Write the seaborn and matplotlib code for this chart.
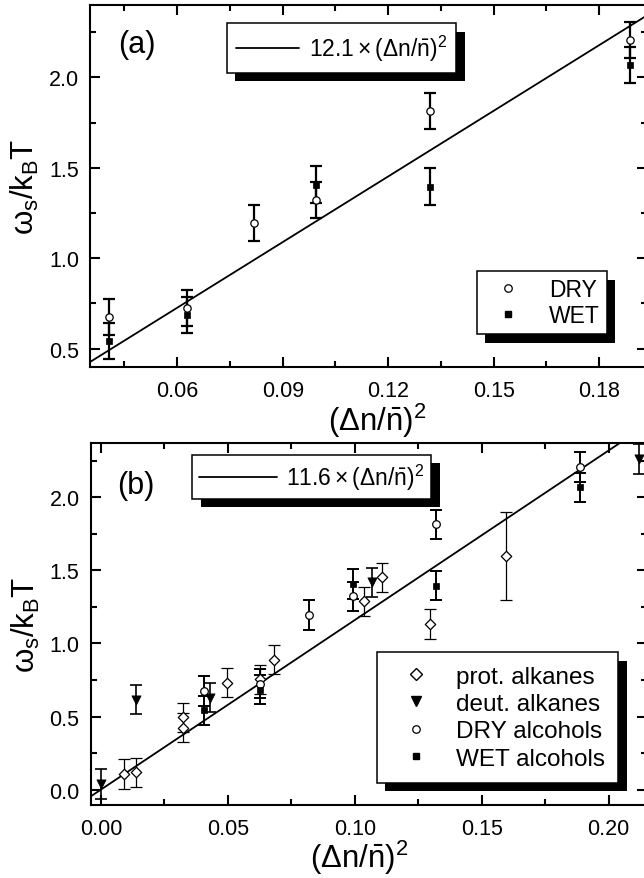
import numpy as np
import matplotlib
matplotlib.use("Agg")
import matplotlib.pyplot as plt
import seaborn as sns
from matplotlib.lines import Line2D
from matplotlib.patches import Rectangle
from matplotlib.ticker import MultipleLocator, FormatStrFormatter
from matplotlib.transforms import IdentityTransform

# ---------------- data ----------------
# alcohols (shown in both panels)
dry_x = [0.0405, 0.0627, 0.0819, 0.0995, 0.1320, 0.1887]
dry_y = [0.675, 0.725, 1.195, 1.322, 1.815, 2.207]
dry_err = [0.10, 0.10, 0.10, 0.10, 0.10, 0.10]

wet_x = [0.0405, 0.0627, 0.0995, 0.1320, 0.1887]
wet_y = [0.542, 0.684, 1.407, 1.396, 2.067]
wet_err = [0.10, 0.10, 0.10, 0.10, 0.10]

# alkanes (panel b)
prot_x = [0.0091, 0.0139, 0.0325, 0.0325, 0.0496, 0.0625, 0.0680, 0.1037, 0.1106, 0.1297, 0.1596]
prot_y = [0.107, 0.119, 0.495, 0.424, 0.732, 0.755, 0.889, 1.289, 1.453, 1.133, 1.600]
prot_err = [0.10, 0.10, 0.10, 0.10, 0.10, 0.10, 0.10, 0.10, 0.10, 0.10, 0.30]

deut_x = [0.0000, 0.0139, 0.0430, 0.1067, 0.2120]
deut_y = [0.039, 0.616, 0.630, 1.418, 2.262]
deut_err = [0.10, 0.10, 0.10, 0.10, 0.10]

# fitted slopes
slope_a = 12.1
slope_b = 11.6

# ---------------- style ----------------
sns.set_theme(style="ticks")
plt.rcParams.update({
    "font.family": ["Liberation Sans", "DejaVu Sans"],
    "mathtext.fontset": "custom",
    "mathtext.rm": "Liberation Sans",
    "mathtext.it": "Liberation Sans",
    "mathtext.sf": "Liberation Sans",
    "mathtext.bf": "Liberation Sans:bold",
    "axes.linewidth": 1.5,
    "axes.edgecolor": "black",
    "text.color": "black",
    "axes.labelcolor": "black",
    "xtick.color": "black",
    "ytick.color": "black",
})

W, H = 644, 879
fig = plt.figure(figsize=(W / 100, H / 100), dpi=100)
fig.patch.set_facecolor("white")


def frac_box(left, top, right, bottom):
    return [left / W, 1 - bottom / H, (right - left) / W, (bottom - top) / H]


ax_a = fig.add_axes(frac_box(90, 6, 647, 367.7))
ax_b = fig.add_axes(frac_box(90.7, 444, 647, 806))

TICK_FS = 15.5
LABEL_FS = 22.5
PANEL_FS = 22
FIT_FS = 16.5


def style_axes(ax, xmaj, xmin, xfmt):
    ax.set_facecolor("white")
    ax.xaxis.set_major_locator(MultipleLocator(xmaj))
    ax.xaxis.set_minor_locator(MultipleLocator(xmin))
    ax.yaxis.set_major_locator(MultipleLocator(0.5))
    ax.yaxis.set_minor_locator(MultipleLocator(0.25))
    ax.xaxis.set_major_formatter(FormatStrFormatter(xfmt))
    ax.yaxis.set_major_formatter(FormatStrFormatter("%.1f"))
    ax.tick_params(which="both", direction="in", top=True, right=True,
                   width=1.5, labelsize=TICK_FS)
    ax.tick_params(which="major", length=7.5)
    ax.tick_params(which="minor", length=4.3)
    ax.tick_params(axis="x", which="major", pad=9.5)
    ax.tick_params(axis="y", which="major", pad=8)
    for s in ax.spines.values():
        s.set_linewidth(1.5)
        s.set_visible(True)
    ax.grid(False)


def bars(ax, x, y, e, lw):
    ax.errorbar(x, y, yerr=e, fmt="none", ecolor="black", elinewidth=lw,
                capsize=4.5, capthick=lw, zorder=2)


def fit_line(ax, slope):
    xs = np.array(ax.get_xlim())
    sns.lineplot(x=xs, y=slope * xs, color="black", linewidth=1.3, ax=ax, zorder=1.5)


def add_shadow(ax, leg, off=8.5):
    fig.canvas.draw()
    bb = leg.get_frame().get_window_extent(fig.canvas.get_renderer())
    rect = Rectangle((bb.x0 + off, bb.y0 - off), bb.width, bb.height,
                     transform=IdentityTransform(), facecolor="black",
                     edgecolor="none", zorder=4.5, clip_on=False)
    ax.add_artist(rect)


leg_common = dict(frameon=True, fancybox=False, framealpha=1, edgecolor="black",
                  borderaxespad=0)

# ---------------- panel (a) ----------------
ax_a.set_xlim(0.0352, 0.1936)
ax_a.set_ylim(0.40, 2.40)
style_axes(ax_a, 0.03, 0.015, "%.2f")
fit_line(ax_a, slope_a)
bars(ax_a, dry_x, dry_y, dry_err, 1.6)
bars(ax_a, wet_x, wet_y, wet_err, 1.6)
sns.scatterplot(x=dry_x, y=dry_y, marker="o", s=28, color="white", edgecolor="black",
                linewidth=0.9, ax=ax_a, zorder=3, legend=False)
sns.scatterplot(x=wet_x, y=wet_y, marker="s", s=22, color="black", edgecolor="black",
                linewidth=0.5, ax=ax_a, zorder=3, legend=False)

ax_a.set_xlabel(r"$(\Delta n/\bar{n})^2$", fontsize=LABEL_FS)
ax_a.set_ylabel(r"$\omega_s/k_B\mathrm{T}$", fontsize=LABEL_FS)
ax_a.xaxis.set_label_coords(0.516, -0.093)
ax_a.yaxis.set_label_coords(-0.088, 0.5)
ax_a.text(0.084, 0.893, "(a)", transform=ax_a.transAxes, fontsize=PANEL_FS,
          ha="center", va="center")

h_fit_a = Line2D([], [], color="black", lw=1.3)
leg_a1 = ax_a.legend([h_fit_a], [r"$12.1\times(\Delta n/\bar{n})^2$"],
                     loc="upper left", bbox_to_anchor=(0.2454, 0.9494),
                     fontsize=FIT_FS, handlelength=2.75, handletextpad=0.4,
                     borderpad=0.42, **leg_common)
leg_a1.get_frame().set_linewidth(1.1)
leg_a1.set_zorder(5)
ax_a.add_artist(leg_a1)

h_dry = Line2D([], [], ls="none", marker="o", ms=5.4, mfc="white", mec="black", mew=0.9)
h_wet = Line2D([], [], ls="none", marker="s", ms=4.8, mfc="black", mec="black")
leg_a2 = ax_a.legend([h_dry, h_wet], ["DRY", "WET"], loc="lower right",
                     bbox_to_anchor=(0.9276, 0.0904), fontsize=16.5,
                     handlelength=2.1, handletextpad=0.75, borderpad=0.3,
                     labelspacing=0.14, **leg_common)
leg_a2.get_frame().set_linewidth(1.1)
leg_a2.set_zorder(5)

# ---------------- panel (b) ----------------
ax_b.set_xlim(-0.0040, 0.2151)
ax_b.set_ylim(-0.105, 2.371)
style_axes(ax_b, 0.05, 0.025, "%.2f")
fit_line(ax_b, slope_b)
bars(ax_b, prot_x, prot_y, prot_err, 0.9)
bars(ax_b, deut_x, deut_y, deut_err, 1.2)
bars(ax_b, dry_x, dry_y, dry_err, 1.4)
bars(ax_b, wet_x, wet_y, wet_err, 1.4)
sns.scatterplot(x=prot_x, y=prot_y, marker="D", s=28, color="white", edgecolor="black",
                linewidth=0.9, ax=ax_b, zorder=3, legend=False)
sns.scatterplot(x=deut_x, y=deut_y, marker="v", s=44, color="black", edgecolor="black",
                linewidth=0.5, ax=ax_b, zorder=3, legend=False)
sns.scatterplot(x=dry_x, y=dry_y, marker="o", s=30, color="white", edgecolor="black",
                linewidth=0.9, ax=ax_b, zorder=3, legend=False)
sns.scatterplot(x=wet_x, y=wet_y, marker="s", s=20, color="black", edgecolor="black",
                linewidth=0.5, ax=ax_b, zorder=3, legend=False)

ax_b.set_xlabel(r"$(\Delta n/\bar{n})^2$", fontsize=LABEL_FS)
ax_b.set_ylabel(r"$\omega_s/k_B\mathrm{T}$", fontsize=LABEL_FS)
ax_b.xaxis.set_label_coords(0.482, -0.090)
ax_b.yaxis.set_label_coords(-0.088, 0.5)
ax_b.text(0.0814, 0.8847, "(b)", transform=ax_b.transAxes, fontsize=PANEL_FS,
          ha="center", va="center")

h_fit_b = Line2D([], [], color="black", lw=1.3)
leg_b1 = ax_b.legend([h_fit_b], [r"$11.6\times(\Delta n/\bar{n})^2$"],
                     loc="upper left", bbox_to_anchor=(0.1826, 0.9677),
                     fontsize=FIT_FS, handlelength=3.4, handletextpad=0.4,
                     borderpad=0.3, **leg_common)
leg_b1.get_frame().set_linewidth(1.1)
leg_b1.set_zorder(5)
ax_b.add_artist(leg_b1)

h_prot = Line2D([], [], ls="none", marker="D", ms=5.8, mfc="white", mec="black", mew=1.0)
h_deut = Line2D([], [], ls="none", marker="v", ms=7.0, mfc="black", mec="black")
h_dry_b = Line2D([], [], ls="none", marker="o", ms=5.4, mfc="white", mec="black", mew=0.9)
h_wet_b = Line2D([], [], ls="none", marker="s", ms=4.8, mfc="black", mec="black")
leg_b2 = ax_b.legend([h_prot, h_deut, h_dry_b, h_wet_b],
                     ["prot. alkanes", "deut. alkanes", "DRY alcohols", "WET alcohols"],
                     loc="lower right", bbox_to_anchor=(0.9484, 0.0608), fontsize=17.5,
                     handlelength=2.1, handletextpad=0.6, borderpad=0.55,
                     labelspacing=0.22, **leg_common)
leg_b2.get_frame().set_linewidth(1.1)
leg_b2.set_zorder(5)

# drop shadows behind the legend boxes
for ax, leg in [(ax_a, leg_a1), (ax_a, leg_a2), (ax_b, leg_b1), (ax_b, leg_b2)]:
    add_shadow(ax, leg)

fig.savefig("out.png", dpi=100, facecolor="white")
